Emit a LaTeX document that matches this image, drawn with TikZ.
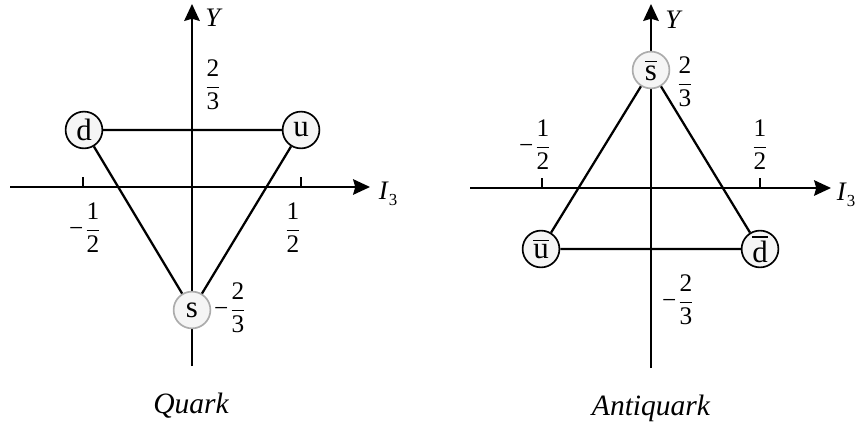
\documentclass[tikz,border=0pt]{standalone}
\usepackage{amsmath}
\usepackage{fontspec}
\setmainfont{Liberation Serif}
\usetikzlibrary{arrows.meta, positioning}
\newcommand{\qfrac}[2]{\ensuremath{\dfrac{\text{#1}}{\text{#2}}}}
\newcommand{\qminus}{\char"2212\kern1pt}

\begin{document}
\begin{tikzpicture}[
    axis/.style={line width=1.6pt, -{Stealth[length=12pt, width=11pt, inset=1.5pt]}},
    side/.style={line width=1.6pt},
    tickmark/.style={line width=1.5pt},
    flav/.style={circle, draw, line width=1.2pt, fill=gray!8, minimum size=0.92cm, inner sep=0pt, font=\fontsize{22}{24}\selectfont},
    flavs/.style={flav, draw=gray!65},
    val/.style={font=\fontsize{18}{20}\selectfont},
    axlabel/.style={font=\fontsize{19}{21}\selectfont},
    caption/.style={font=\fontsize{21}{24}\selectfont\itshape}
  ]
  \useasboundingbox (0,0) rectangle (21.4,10.65);

  % Quark triplet
  \coordinate (qL) at (0.25,5.975);
  \coordinate (qR) at (9.25,5.975);
  \coordinate (qB) at (4.8,1.5);
  \coordinate (qT) at (4.8,10.55);
  \draw[axis] (qL) -- (qR);
  \draw[axis] (qB) -- (qT);
  \draw[tickmark] (2.075,5.975) -- ++(0,0.25);
  \draw[tickmark] (7.525,5.975) -- ++(0,0.25);
  \node[axlabel] (qI) at (9.7,5.8) {\textit{I}\raisebox{-0.45ex}{\fontsize{12}{14}\selectfont 3}};
  \node[axlabel] (qY) at (5.35,10.2) {\textit{Y}};

  \node[flav] (d) at (2.1,7.4) {d};
  \node[flav] (u) at (7.525,7.4) {u};
  \node[flavs] (s) at (4.8,2.9) {s};
  \draw[side] (d) -- (u) -- (s) -- (d);

  \node[val] (qtop) at (5.325,8.525) {\qfrac{2}{3}};
  \node[val] (qneg) at (2.125,4.95) {\qminus\qfrac{1}{2}};
  \node[val] (qpos) at (7.325,4.95) {\qfrac{1}{2}};
  \node[val] (qbot) at (5.75,2.95) {\qminus\qfrac{2}{3}};
  \node[caption] (qname) at (4.775,0.5) {Quark};

  % Antiquark triplet
  \coordinate (aL) at (11.75,5.95);
  \coordinate (aR) at (20.775,5.95);
  \coordinate (aB) at (16.275,1.45);
  \coordinate (aT) at (16.275,10.55);
  \draw[axis] (aL) -- (aR);
  \draw[axis] (aB) -- (aT);
  \draw[tickmark] (13.55,5.95) -- ++(0,0.25);
  \draw[tickmark] (19.0,5.95) -- ++(0,0.25);
  \node[axlabel] (aI) at (21.15,5.775) {\textit{I}\raisebox{-0.45ex}{\fontsize{12}{14}\selectfont 3}};
  \node[axlabel] (aY) at (16.85,10.15) {\textit{Y}};

  \node[flavs] (sbar) at (16.275,8.9) {$\overline{\text{s}}$};
  \node[flav] (ubar) at (13.525,4.425) {$\overline{\text{u}}$};
  \node[flav] (dbar) at (19.0,4.425) {$\overline{\text{d}}$};
  \draw[side] (ubar) -- (dbar) -- (sbar) -- (ubar);

  \node[val] (atop) at (17.125,8.6) {\qfrac{2}{3}};
  \node[val] (aneg) at (13.375,7.025) {\qminus\qfrac{1}{2}};
  \node[val] (apos) at (19.0,7.025) {\qfrac{1}{2}};
  \node[val] (abot) at (16.95,3.15) {\qminus\qfrac{2}{3}};
  \node[caption] (aname) at (16.275,0.45) {Antiquark};
\end{tikzpicture}
\end{document}
